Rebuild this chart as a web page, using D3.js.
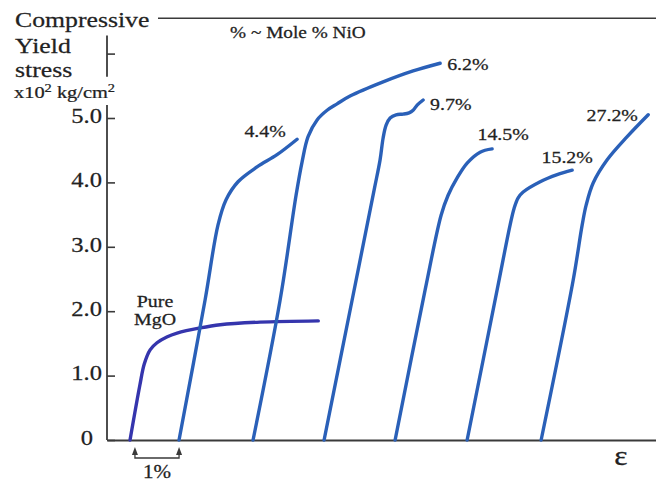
<!DOCTYPE html>
<html><head><meta charset="utf-8">
<script src="https://cdn.jsdelivr.net/npm/d3@7/dist/d3.min.js"></script>
<style>html,body{margin:0;padding:0;background:#fff}svg{display:block}</style></head>
<body><svg id="c" width="656" height="482"></svg>
<script>
// ---- data (strain in %, stress in x10^2 kg/cm^2) ----
const seriesNames = ["Pure MgO", "4.4%", "6.2%", "9.7%", "14.5%", "15.2%", "27.2%"];
const pureMgO = [[0.47,0],[0.67,0.85],[0.76,1.18],[0.88,1.40],[1.02,1.51],[1.22,1.60],[1.43,1.66],[1.90,1.74],[2.31,1.79],[3.12,1.83],[4.31,1.85]];
const nio44 = [[1.47,0],[2.0,2.17],[2.265,3.34],[2.429,3.73],[2.673,4.01],[3.061,4.24],[3.469,4.43],[3.878,4.67]];
const nio62 = [[2.98,0],[3.531,2.17],[3.857,3.80],[3.98,4.32],[4.102,4.71],[4.286,4.97],[4.49,5.12],[4.694,5.22],[4.959,5.34],[5.633,5.56],[6.245,5.73],[6.796,5.85]];
const nio97 = [[4.429,0],[5.0,2.17],[5.449,3.88],[5.571,4.35],[5.633,4.69],[5.694,4.89],[5.776,5.0],[5.898,5.05],[6.041,5.06],[6.163,5.08],[6.245,5.12],[6.327,5.20],[6.449,5.28]];
const nio145 = [[5.878,0],[6.49,2.33],[6.816,3.49],[6.959,3.80],[7.143,4.07],[7.347,4.30],[7.612,4.47],[7.857,4.52]];
const nio152 = [[7.347,0],[7.959,2.33],[8.224,3.34],[8.306,3.60],[8.388,3.76],[8.49,3.85],[8.837,4.01],[9.184,4.12],[9.49,4.19]];
const nio272 = [[8.857,0],[9.51,2.48],[9.694,3.34],[9.776,3.65],[9.918,3.99],[10.204,4.35],[10.612,4.71],[11.041,5.05]];
const seriesValues = [pureMgO, nio44, nio62, nio97, nio145, nio152, nio272];
const yTickValues = [0, 1, 2, 3, 4, 5, 6];
const yTickLabels = ["0", "1.0", "2.0", "3.0", "4.0", "5.0", ""];
const yTitleLines = ["Compressive", "Yield", "stress"];

// ---- drawing ----
const svg = d3.select("#c");
const FONT = "'Liberation Serif','Times New Roman',Times,serif";
const TXT = "#222", AX = "#3a3a3a";
const SX = 1.17;
const x = d3.scaleLinear().domain([0, 11.2]).range([107, 656]);
const y = d3.scaleLinear().domain([0, 5]).range([440, 118]);

function txt(px, py, str, size, anchor, sx) {
  return svg.append("text")
    .attr("transform", `translate(${px},${py}) scale(${sx || SX},1)`)
    .attr("text-anchor", anchor || "start")
    .attr("font-family", FONT).attr("font-size", size)
    .attr("fill", TXT).attr("stroke", TXT).attr("stroke-width", 0.25).text(str);
}

// x axis
const xAxis = d3.axisBottom(x).tickValues([]).tickSizeOuter(0);
const gx = svg.append("g").attr("transform", `translate(0,${y(0)})`).call(xAxis);
gx.select(".domain").attr("stroke", AX).attr("stroke-width", 1.8);

// y axis (ticks inward)
const yAxis = d3.axisLeft(y).tickValues(yTickValues)
  .tickFormat((d, i) => yTickLabels[i]).tickSizeInner(-8).tickSizeOuter(0).tickPadding(5);
const gy = svg.append("g").attr("transform", `translate(${x(0)},0)`).call(yAxis);
gy.select(".domain").remove();
gy.selectAll(".tick line").attr("stroke", AX).attr("stroke-width", 1.6);
gy.selectAll(".tick text")
  .attr("font-family", FONT).attr("font-size", 21).attr("fill", TXT)
  .attr("stroke", TXT).attr("stroke-width", 0.25)
  .attr("dy", "0.2em")
  .attr("transform", function(d) { const xx = +d3.select(this).attr("x") - (d === 0 ? 9 : 0); return `translate(${xx},0) scale(${SX},1) translate(${-(+d3.select(this).attr("x"))},0)`; });
// axis spine, broken where the unit text sits
svg.append("line").attr("x1", x(0)).attr("x2", x(0)).attr("y1", y(0)).attr("y2", y(5.2))
  .attr("stroke", AX).attr("stroke-width", 1.8);
svg.append("line").attr("x1", x(0)).attr("x2", x(0)).attr("y1", y(5.64)).attr("y2", y(6.28))
  .attr("stroke", AX).attr("stroke-width", 1.8);
// top rule
svg.append("line").attr("x1", 158).attr("x2", 656).attr("y1", y(6.55)).attr("y2", y(6.55))
  .attr("stroke", AX).attr("stroke-width", 1.6);

// y title
txt(15, 27, yTitleLines[0], 22);
txt(15, 53, yTitleLines[1], 22);
txt(15, 77, yTitleLines[2], 22);
const unit = svg.append("text")
  .attr("transform", `translate(14,98) scale(1.2,1)`)
  .attr("font-family", FONT).attr("font-size", 17).attr("fill", TXT)
  .attr("stroke", TXT).attr("stroke-width", 0.25);
unit.append("tspan").text("x10");
unit.append("tspan").attr("dy", -6).attr("font-size", 12).text("2");
unit.append("tspan").attr("dy", 6).text(" kg/cm");
unit.append("tspan").attr("dy", -6).attr("font-size", 12).text("2");

// curves
const line = d3.line().x(d => x(d[0])).y(d => y(d[1])).curve(d3.curveCatmullRom.alpha(0.5));
const colors = ["#3535ad", "#2a60b8", "#2a60b8", "#2a60b8", "#2a60b8", "#2a60b8", "#2a60b8"];
svg.selectAll("path.curve").data(seriesValues).join("path")
  .attr("class", "curve").attr("d", line)
  .attr("fill", "none").attr("stroke", (d, i) => colors[i])
  .attr("stroke-width", 3.4).attr("stroke-linecap", "round").attr("stroke-linejoin", "round");

// labels near curve ends
const labelOffsets = { "4.4%": [-32, -2, "middle"], "6.2%": [7, 7, "start"], "9.7%": [7, 10, "start"],
  "14.5%": [11, -9, "middle"], "15.2%": [-5, -7, "middle"], "27.2%": [-36, 6, "middle"] };
seriesNames.forEach((n, i) => {
  if (!labelOffsets[n]) return;
  const end = seriesValues[i][seriesValues[i].length - 1];
  const o = labelOffsets[n];
  txt(x(end[0]) + o[0], y(end[1]) + o[1], n, 17, o[2]);
});
// Pure MgO label
txt(x(0.98), 307, "Pure", 17, "middle");
txt(x(0.98), 325, "MgO", 17, "middle");
// series note
txt(230, 38, "% ~ Mole % NiO", 16.5, "start");

// 1% bracket
const bx1 = x(0.57), bx2 = x(1.47), by = 458, tip = 447;
svg.append("path").attr("d", `M${bx1},${tip + 5}V${by}H${bx2}V${tip + 5}`)
  .attr("fill", "none").attr("stroke", AX).attr("stroke-width", 1.3);
[bx1, bx2].forEach(bx => svg.append("path")
  .attr("d", `M${bx},${tip}L${bx - 3},${tip + 8}L${bx + 3},${tip + 8}Z`).attr("fill", AX));
txt((bx1 + bx2) / 2, 478, "1%", 18, "middle");

// epsilon
txt(621, 465, "ε", 27, "middle");
</script></body></html>
